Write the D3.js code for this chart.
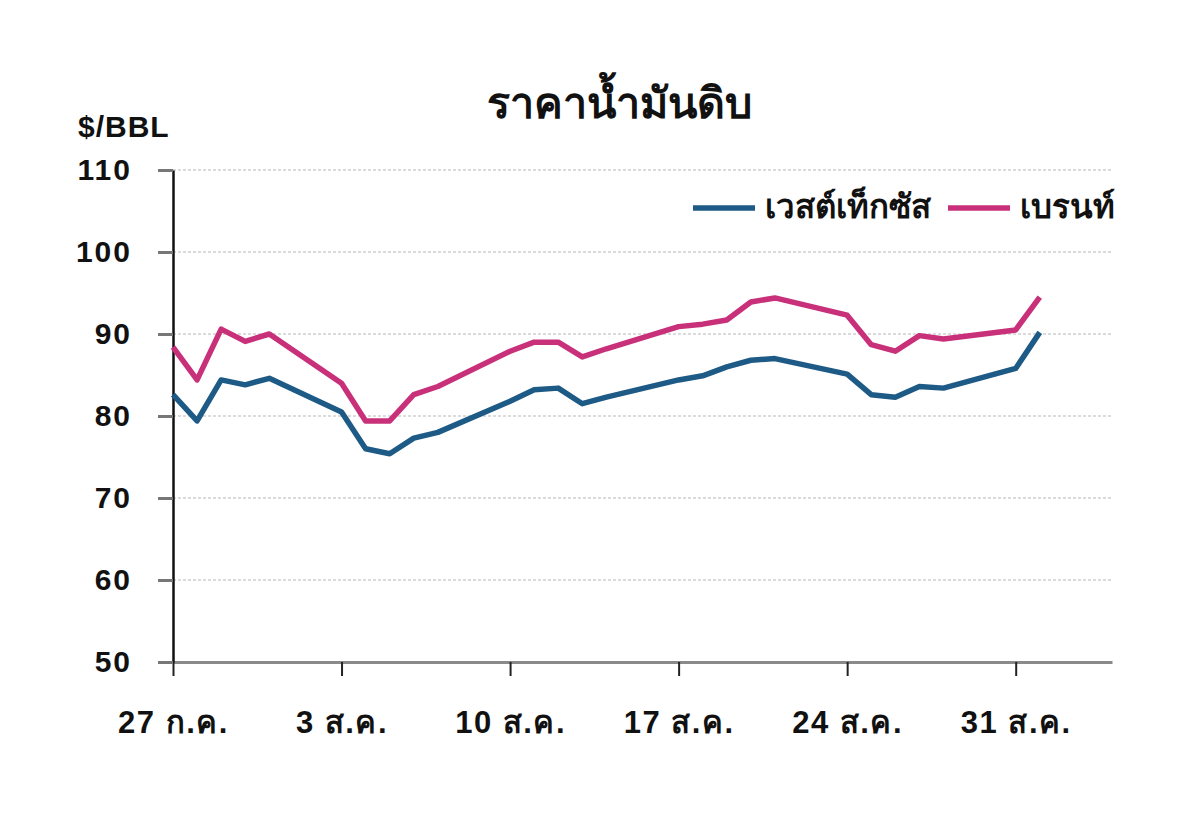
<!DOCTYPE html>
<html>
<head>
<meta charset="utf-8">
<script src="https://cdn.jsdelivr.net/npm/d3@7"></script>
<style>
  body { margin: 0; background: #fff; }
  text { font-family: "Liberation Sans", Arial, sans-serif; font-weight: bold; fill: #111; }
</style>
</head>
<body>
<svg id="chart" width="1200" height="822"></svg>
<script>
// trading days, 27 Jul - 1 Sep
const dates = ['2009-07-27','2009-07-28','2009-07-29','2009-07-30','2009-07-31',
  '2009-08-03','2009-08-04','2009-08-05','2009-08-06','2009-08-07',
  '2009-08-10','2009-08-11','2009-08-12','2009-08-13','2009-08-14',
  '2009-08-17','2009-08-18','2009-08-19','2009-08-20','2009-08-21',
  '2009-08-24','2009-08-25','2009-08-26','2009-08-27','2009-08-28',
  '2009-08-31','2009-09-01'];
const wti = [82.6, 79.4, 84.4, 83.8, 84.6,
  80.5, 76.0, 75.4, 77.3, 78.0,
  81.8, 83.2, 83.4, 81.5, 82.3,
  84.4, 84.9, 86.0, 86.8, 87.0,
  85.1, 82.6, 82.3, 83.6, 83.4,
  85.8, 90.2];
const brent = [88.4, 84.4, 90.6, 89.1, 90.0,
  84.0, 79.4, 79.4, 82.6, 83.6,
  87.9, 89.0, 89.0, 87.2, 88.2,
  90.9, 91.2, 91.7, 93.9, 94.4,
  92.3, 88.7, 87.9, 89.8, 89.4,
  90.5, 94.5];
const yTicks = [50, 60, 70, 80, 90, 100, 110];
const xTickDates = ['2009-07-27','2009-08-03','2009-08-10','2009-08-17','2009-08-24','2009-08-31'];
const xTickLabels = ['27 ก.ค.', '3 ส.ค.', '10 ส.ค.', '17 ส.ค.', '24 ส.ค.', '31 ส.ค.'];
const seriesNames = ['เวสต์เท็กซัส', 'เบรนท์'];
const colors = ['#1d5a86', '#c9307a'];

const parse = d3.timeParse('%Y-%m-%d');
const svg = d3.select('#chart');
const margin = { top: 170, left: 173, right: 88, bottom: 160 };
const width = 1200 - margin.left - margin.right;
const height = 822 - margin.top - margin.bottom;

const x = d3.scaleTime()
  .domain([parse('2009-07-27'), parse('2009-09-04')])
  .range([0, width]);
const y = d3.scaleLinear().domain([50, 110]).range([height, 0]);

const g = svg.append('g').attr('transform', `translate(${margin.left},${margin.top})`);

// grid
g.selectAll('.grid').data(yTicks.filter(d => d > 50)).enter().append('line')
  .attr('x1', 0).attr('x2', width)
  .attr('y1', d => y(d)).attr('y2', d => y(d))
  .attr('stroke', '#d0d0d0').attr('stroke-width', 1.5)
  .attr('stroke-dasharray', '3,2');

// x axis
const xAxis = g.append('g')
  .attr('transform', `translate(0,${height})`)
  .call(d3.axisBottom(x)
    .tickValues(xTickDates.map(parse))
    .tickSize(14).tickSizeOuter(0)
    .tickFormat((d, i) => xTickLabels[i]));
xAxis.select('.domain').attr('stroke', '#8a8a8a').attr('stroke-width', 3);
xAxis.selectAll('.tick line').attr('stroke', '#222').attr('stroke-width', 2);
xAxis.selectAll('.tick text').attr('dy', 0).attr('y', 71)
  .style('font-size', '31px').style('letter-spacing', '1.5px').attr('fill', '#111');

// y axis
const yAxis = g.append('g')
  .call(d3.axisLeft(y).tickValues(yTicks).tickSize(15).tickSizeOuter(0));
yAxis.select('.domain').attr('stroke', '#111').attr('stroke-width', 2.5);
yAxis.selectAll('.tick line').attr('stroke', '#777').attr('stroke-width', 3);
yAxis.selectAll('.tick text').attr('x', -41)
  .style('font-size', '30px').style('letter-spacing', '2px').attr('fill', '#111');

// lines
const line = d3.line().x(d => x(d[0])).y(d => y(d[1]));
[wti, brent].forEach((vals, i) => {
  g.append('path')
    .datum(dates.map((d, j) => [parse(d), vals[j]]))
    .attr('fill', 'none')
    .attr('stroke', colors[i])
    .attr('stroke-width', 5.5)
    .attr('stroke-linejoin', 'round')
    .attr('d', line);
});

// title and unit
svg.append('text').attr('x', 619).attr('y', 118).attr('text-anchor', 'middle')
  .style('font-size', '43px').text('ราคาน้ำมันดิบ');
svg.append('text').attr('x', 78).attr('y', 137)
  .style('font-size', '30px').style('letter-spacing', '1px').text('$/BBL');

// legend
const legend = svg.append('g');
const legX = [693, 948];
seriesNames.forEach((name, i) => {
  legend.append('line')
    .attr('x1', legX[i]).attr('x2', legX[i] + 62)
    .attr('y1', 208).attr('y2', 208)
    .attr('stroke', colors[i]).attr('stroke-width', 5.5);
  legend.append('text')
    .attr('x', legX[i] + 72).attr('y', 218)
    .style('font-size', '33px').text(name);
});
</script>
</body>
</html>
